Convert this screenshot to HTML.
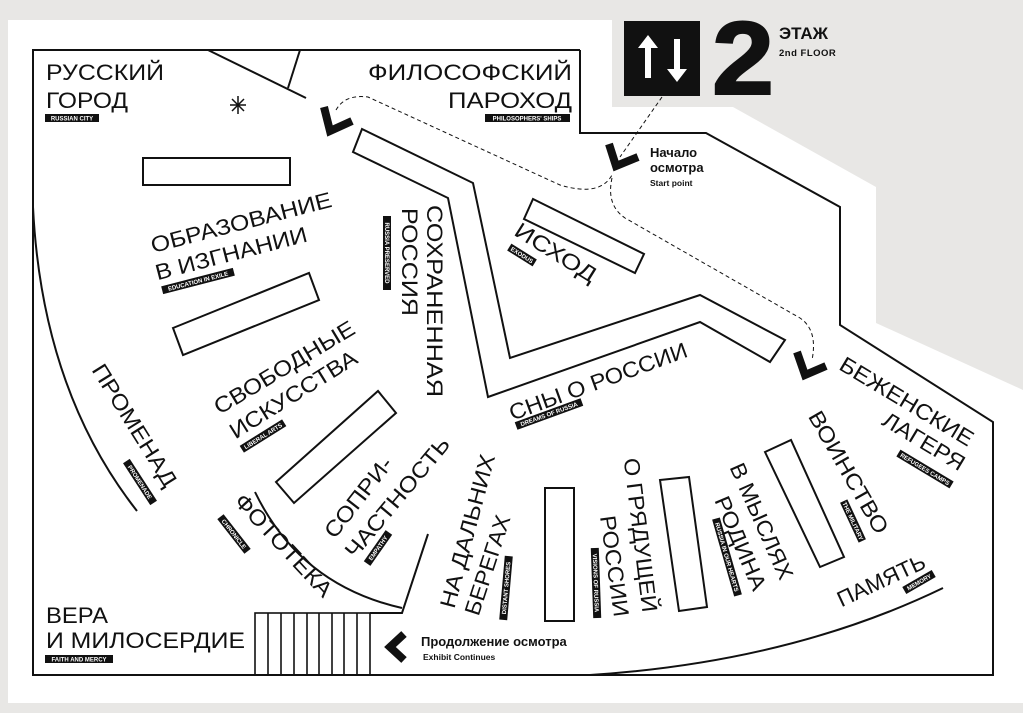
<!DOCTYPE html>
<html><head><meta charset="utf-8"><style>
html,body{margin:0;padding:0;background:#e8e7e5;}
svg{display:block;font-family:"Liberation Sans","DejaVu Sans",sans-serif;}
.l{font-size:22px;fill:#111;}
.t{font-size:6px;font-weight:bold;fill:#fff;}
</style></head><body>
<svg width="1023" height="713" viewBox="0 0 1023 713" xmlns="http://www.w3.org/2000/svg">
<rect width="1023" height="713" fill="#e8e7e5"/>
<polygon points="8,20 612,20 612,107 733,107 876,187 876,323 1023,390 1023,703 8,703" fill="#fff"/>
<g fill="none" stroke="#111" stroke-width="2">
<polyline points="580,50 33,50 33,675 993,675 993,422 840,325 840,207 706,133 580,133 580,50"/>
<line x1="208" y1="50" x2="306" y2="98"/>
<line x1="300" y1="50" x2="288" y2="88"/>
<path d="M33,207 Q42,390 137,511"/>
<path d="M255,492 Q300,585 402,608"/>
<polyline points="370,613 402,613 428,534"/>
<path d="M590,675 Q790,662 943,588"/>
<rect x="143" y="158" width="147" height="27"/>
<polygon points="173,328 309,273 319,300 183,355"/>
<polygon points="276,482 378,391 396,413 294,503"/>
<polygon points="533,199 644,254 635,273 524,219"/>
<polygon points="362,129 473,183 510,358 700,295 785,340 770,362 700,322 488,397 448,198 353,152"/>
<polygon points="545,488 574,488 574,621 545,621"/>
<polygon points="660,480 689,477 707,607 679,611"/>
<polygon points="765,452 791,440 844,557 820,567"/>
</g>
<g stroke="#111" stroke-width="1.6">
<rect x="255" y="613" width="115" height="62" fill="none"/>
<line x1="268" y1="613" x2="268" y2="675"/><line x1="281" y1="613" x2="281" y2="675"/>
<line x1="294" y1="613" x2="294" y2="675"/><line x1="307" y1="613" x2="307" y2="675"/>
<line x1="319" y1="613" x2="319" y2="675"/><line x1="332" y1="613" x2="332" y2="675"/>
<line x1="344" y1="613" x2="344" y2="675"/><line x1="357" y1="613" x2="357" y2="675"/>
</g>
<g stroke="#111" stroke-width="1.5">
<line x1="230" y1="105" x2="246" y2="105"/><line x1="238" y1="96" x2="238" y2="114"/>
<line x1="232" y1="99" x2="244" y2="111"/><line x1="244" y1="99" x2="232" y2="111"/>
</g>
<g fill="none" stroke="#111" stroke-width="1" stroke-dasharray="4,3">
<path d="M336,110 Q345,94 368,97 L560,185 Q600,197 612,175"/>
<path d="M662,97 L620,157"/>
<path d="M612,178 Q606,205 625,218 L800,318 Q818,330 812,360"/>
</g>
<g fill="none" stroke="#111" stroke-width="8" stroke-linejoin="miter">
<polyline points="324,107 330,131 352,121"/>
<polyline points="609,144 616,166 638,157"/>
<polyline points="797,352 805,375 826,366"/>
<polyline points="404,634 390,647 404,660"/>
</g>
<rect x="624" y="21" width="76" height="75" fill="#111"/>
<polygon points="648,35 638,48 645,48 645,78 651,78 651,48 658,48" fill="#fff"/>
<polygon points="677,82 667,69 674,69 674,39 680,39 680,69 687,69" fill="#fff"/>
<text x="712" y="94" font-size="104" font-weight="bold" fill="#111" stroke="#111" stroke-width="2" textLength="62" lengthAdjust="spacingAndGlyphs">2</text>
<text x="779" y="39" font-size="17" font-weight="bold" fill="#111">ЭТАЖ</text>
<text x="779" y="56" font-size="9.5" font-weight="bold" fill="#111" letter-spacing="0.5">2nd FLOOR</text>
<text x="650" y="157" font-size="13" font-weight="bold" fill="#111">Начало</text>
<text x="650" y="172" font-size="13" font-weight="bold" fill="#111">осмотра</text>
<text x="650" y="186" font-size="8.5" font-weight="bold" fill="#111">Start point</text>
<text x="421" y="646" font-size="13" font-weight="bold" fill="#111">Продолжение осмотра</text>
<text x="423" y="660" font-size="8.5" font-weight="bold" fill="#111">Exhibit Continues</text>

<text class="l" x="46" y="80" textLength="118" lengthAdjust="spacingAndGlyphs">РУССКИЙ</text>
<text class="l" x="46" y="108" textLength="82" lengthAdjust="spacingAndGlyphs">ГОРОД</text>
<rect x="45" y="114" width="54" height="8" fill="#111"/><text class="t" x="72" y="120.5" text-anchor="middle">RUSSIAN CITY</text>
<text class="l" x="572" y="80" text-anchor="end" textLength="204" lengthAdjust="spacingAndGlyphs">ФИЛОСОФСКИЙ</text>
<text class="l" x="572" y="108" text-anchor="end" textLength="124" lengthAdjust="spacingAndGlyphs">ПАРОХОД</text>
<rect x="485" y="114" width="85" height="8" fill="#111"/><text class="t" x="527" y="120.5" text-anchor="middle">PHILOSOPHERS' SHIPS</text>
<text class="l" x="46" y="623" textLength="62" lengthAdjust="spacingAndGlyphs">ВЕРА</text>
<text class="l" x="46" y="648" textLength="199" lengthAdjust="spacingAndGlyphs">И МИЛОСЕРДИЕ</text>
<rect x="45" y="655" width="68" height="8" fill="#111"/><text class="t" x="79" y="661.5" text-anchor="middle">FAITH AND MERCY</text>

<g text-anchor="middle">
<g transform="translate(241,222) rotate(-14.5)"><text class="l" dy="8" textLength="186" lengthAdjust="spacingAndGlyphs">ОБРАЗОВАНИЕ</text></g>
<g transform="translate(231,253) rotate(-14.5)"><text class="l" dy="8" textLength="156" lengthAdjust="spacingAndGlyphs">В ИЗГНАНИИ</text></g>
<g transform="translate(198,281) rotate(-14.5)"><rect x="-37" y="-4" width="74" height="8" fill="#111"/><text class="t" dy="2.2">EDUCATION IN EXILE</text></g>

<g transform="translate(284,367) rotate(-31)"><text class="l" dy="8" textLength="160" lengthAdjust="spacingAndGlyphs">СВОБОДНЫЕ</text></g>
<g transform="translate(293,394) rotate(-32)"><text class="l" dy="8" textLength="146" lengthAdjust="spacingAndGlyphs">ИСКУССТВА</text></g>
<g transform="translate(263,436) rotate(-32)"><rect x="-25" y="-4" width="50" height="8" fill="#111"/><text class="t" dy="2.2">LIBERAL ARTS</text></g>

<g transform="translate(435,301) rotate(90)"><text class="l" dy="8" textLength="192" lengthAdjust="spacingAndGlyphs">СОХРАНЕННАЯ</text></g>
<g transform="translate(410,262) rotate(90)"><text class="l" dy="8" textLength="108" lengthAdjust="spacingAndGlyphs">РОССИЯ</text></g>
<g transform="translate(387,253) rotate(90)"><rect x="-37" y="-4" width="74" height="8" fill="#111"/><text class="t" dy="2.2">RUSSIA PRESERVED</text></g>

<g transform="translate(556,252) rotate(32)"><text class="l" dy="8" textLength="92" lengthAdjust="spacingAndGlyphs">ИСХОД</text></g>
<g transform="translate(522,255) rotate(32)"><rect x="-15" y="-4" width="30" height="8" fill="#111"/><text class="t" dy="2.2">EXODUS</text></g>

<g transform="translate(598,381) rotate(-20)"><text class="l" dy="8" textLength="188" lengthAdjust="spacingAndGlyphs">СНЫ О РОССИИ</text></g>
<g transform="translate(549,414) rotate(-20)"><rect x="-35" y="-4" width="70" height="8" fill="#111"/><text class="t" dy="2.2">DREAMS OF RUSSIA</text></g>

<g transform="translate(907,401) rotate(31)"><text class="l" dy="8" textLength="152" lengthAdjust="spacingAndGlyphs">БЕЖЕНСКИЕ</text></g>
<g transform="translate(924,441) rotate(31)"><text class="l" dy="8" textLength="92" lengthAdjust="spacingAndGlyphs">ЛАГЕРЯ</text></g>
<g transform="translate(925,469) rotate(31)"><rect x="-31" y="-4" width="62" height="8" fill="#111"/><text class="t" dy="2.2">REFUGEES CAMPS</text></g>

<g transform="translate(849,472) rotate(60)"><text class="l" dy="8" textLength="138" lengthAdjust="spacingAndGlyphs">ВОИНСТВО</text></g>
<g transform="translate(853,521) rotate(65)"><rect x="-22" y="-4" width="44" height="8" fill="#111"/><text class="t" dy="2.2">THE MILITARY</text></g>

<g transform="translate(762,521) rotate(66)"><text class="l" dy="8" textLength="125" lengthAdjust="spacingAndGlyphs">В МЫСЛЯХ</text></g>
<g transform="translate(741,543) rotate(67)"><text class="l" dy="8" textLength="100" lengthAdjust="spacingAndGlyphs">РОДИНА</text></g>
<g transform="translate(727,557) rotate(74)"><rect x="-40" y="-4" width="80" height="8" fill="#111"/><text class="t" dy="2.2">RUSSIA IN OUR HEARTS</text></g>

<g transform="translate(641,535) rotate(83)"><text class="l" dy="8" textLength="155" lengthAdjust="spacingAndGlyphs">О ГРЯДУЩЕЙ</text></g>
<g transform="translate(615,566) rotate(82)"><text class="l" dy="8" textLength="102" lengthAdjust="spacingAndGlyphs">РОССИИ</text></g>
<g transform="translate(596,583) rotate(88)"><rect x="-35" y="-4" width="70" height="8" fill="#111"/><text class="t" dy="2.2">VISIONS OF RUSSIA</text></g>

<g transform="translate(467,531) rotate(-75)"><text class="l" dy="8" textLength="158" lengthAdjust="spacingAndGlyphs">НА ДАЛЬНИХ</text></g>
<g transform="translate(487,565) rotate(-72)"><text class="l" dy="8" textLength="104" lengthAdjust="spacingAndGlyphs">БЕРЕГАХ</text></g>
<g transform="translate(506,588) rotate(-85)"><rect x="-32" y="-4" width="64" height="8" fill="#111"/><text class="t" dy="2.2">DISTANT SHORES</text></g>

<g transform="translate(358,497) rotate(-52)"><text class="l" dy="8" textLength="96" lengthAdjust="spacingAndGlyphs">СОПРИ-</text></g>
<g transform="translate(397,497) rotate(-50)"><text class="l" dy="8" textLength="150" lengthAdjust="spacingAndGlyphs">ЧАСТНОСТЬ</text></g>
<g transform="translate(378,548) rotate(-55)"><rect x="-19" y="-4" width="38" height="8" fill="#111"/><text class="t" dy="2.2">EMPATHY</text></g>

<g transform="translate(284,545) rotate(47)"><text class="l" dy="8" textLength="132" lengthAdjust="spacingAndGlyphs">ФОТОТЕКА</text></g>
<g transform="translate(234,534) rotate(52)"><rect x="-22" y="-4" width="44" height="8" fill="#111"/><text class="t" dy="2.2">CHRONICLE</text></g>

<g transform="translate(135,425) rotate(58)"><text class="l" dy="8" textLength="140" lengthAdjust="spacingAndGlyphs">ПРОМЕНАД</text></g>
<g transform="translate(140,482) rotate(57)"><rect x="-25" y="-4" width="50" height="8" fill="#111"/><text class="t" dy="2.2">PROMENADE</text></g>

<g transform="translate(881,580) rotate(-25)"><text class="l" dy="8" textLength="95" lengthAdjust="spacingAndGlyphs">ПАМЯТЬ</text></g>
<g transform="translate(919,582) rotate(-30)"><rect x="-17" y="-4" width="34" height="8" fill="#111"/><text class="t" dy="2.2">MEMORY</text></g>
</g>
</svg>
</body></html>
